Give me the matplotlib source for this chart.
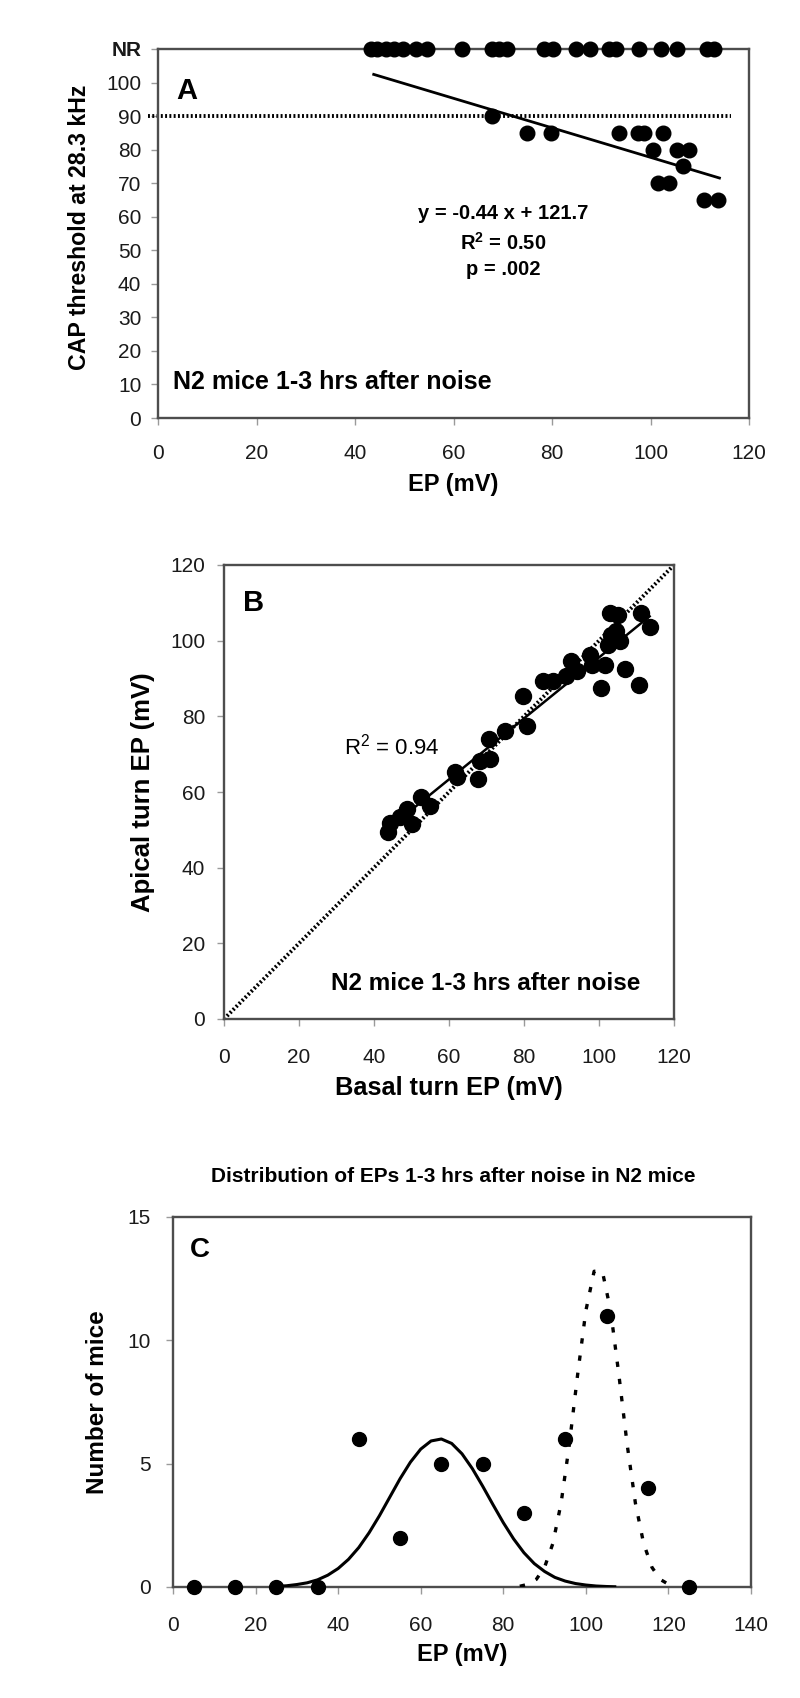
import numpy as np
import matplotlib
matplotlib.use("Agg")
import matplotlib.pyplot as plt

plt.rcParams['font.family'] = ['Liberation Sans', 'DejaVu Sans']
plt.rcParams['mathtext.fontset'] = 'custom'
plt.rcParams['mathtext.rm'] = 'Liberation Sans'
plt.rcParams['mathtext.bf'] = 'Liberation Sans:bold'

# ---------------- Panel A data ----------------
a_thresh_ep = [67.8, 74.9, 79.7, 93.6, 97.4, 98.6, 102.6, 100.6, 105.3, 107.9,
               106.6, 101.5, 103.8, 110.8, 113.7]
a_thresh_db = [90, 85, 85, 85, 85, 85, 85, 80, 80, 80, 75, 70, 70, 65, 65]
a_nr_ep = [43.2, 44.5, 46.3, 48.0, 49.8, 52.4, 54.6, 61.7, 67.8, 69.2, 70.9,
           78.4, 80.2, 84.8, 87.7, 91.6, 93.0, 97.6, 102.2, 105.3, 111.5, 112.8]
a_nr_level = 110
a_fit_coef = [-0.44, 121.7]
a_fit_range = [43.8, 114]
a_criterion = 90
a_yticks = [0, 10, 20, 30, 40, 50, 60, 70, 80, 90, 100, 110]
a_yticklabels = ['0', '10', '20', '30', '40', '50', '60', '70', '80', '90', '100', 'NR']
a_xticks = [0, 20, 40, 60, 80, 100, 120]

# ---------------- Panel B data ----------------
b_basal = [43.6, 44.2, 46.8, 48.9, 50.0, 52.6, 54.8, 61.7, 62.0, 67.7, 68.2, 70.8,
           70.6, 74.8, 79.7, 80.9, 85.1, 87.7, 91.3, 92.4, 94.0, 97.5, 98.0, 100.6,
           101.5, 102.4, 103.3, 102.8, 105.1, 105.5, 106.8, 110.6, 111.3, 113.5, 104.6]
b_apical = [49.4, 51.8, 53.3, 55.5, 51.6, 58.6, 56.4, 65.2, 63.9, 63.4, 68.2, 68.7,
            73.9, 76.1, 85.4, 77.5, 89.3, 89.3, 90.6, 94.6, 91.9, 96.3, 93.7, 87.5,
            93.7, 98.9, 101.6, 107.3, 106.8, 99.8, 92.4, 88.4, 107.3, 103.5, 102.5]
b_ticks = [0, 20, 40, 60, 80, 100, 120]

# ---------------- Panel C data ----------------
c_bin_ep = [5, 15, 25, 35, 45, 55, 65, 75, 85, 95, 105, 115, 125]
c_count = [0, 0, 0, 0, 6, 2, 5, 5, 3, 6, 11, 4, 0]
c_low_x = [25, 27.5, 30, 32.5, 35, 37.5, 40, 42.5, 45, 47.5, 50, 52.5, 55, 57.5, 60,
           62.5, 65, 67.5, 70, 72.5, 75, 77.5, 80, 82.5, 85, 87.5, 90, 92.5, 95,
           97.5, 100, 102.5, 105, 107]
c_low_y = [0.03, 0.05, 0.10, 0.17, 0.29, 0.48, 0.75, 1.12, 1.60, 2.20, 2.89, 3.64,
           4.39, 5.06, 5.59, 5.92, 6.0, 5.82, 5.40, 4.80, 4.09, 3.34, 2.61, 1.95,
           1.39, 0.95, 0.63, 0.39, 0.24, 0.14, 0.08, 0.04, 0.02, 0.01]
c_high_x = [84, 86, 88, 90, 92, 94, 96, 98, 100, 102, 104, 106, 108, 110, 112, 114,
            116, 118, 120]
c_high_y = [0.03, 0.11, 0.31, 0.80, 1.76, 3.40, 5.78, 8.60, 11.2, 12.8, 12.8, 11.2,
            8.60, 5.78, 3.40, 1.76, 0.80, 0.31, 0.11]
c_xticks = [0, 20, 40, 60, 80, 100, 120, 140]
c_yticks = [0, 5, 10, 15]

W, H = 800, 1698
fig = plt.figure(figsize=(W / 100, H / 100), dpi=100)
spine_col = '#4d4d4d'
txt_col = '#1a1a1a'
DOT = (0, (0.5, 0.6))


def px_axes(l, r, t, b):
    return fig.add_axes([l / W, 1 - b / H, (r - l) / W, (b - t) / H])


def ftext(x, y, s, **kw):
    fig.text(x / W, 1 - y / H, s, ha='center', va='center', **kw)


def style(ax, fs, xpad, ypad):
    for s in ax.spines.values():
        s.set_color(spine_col)
        s.set_linewidth(1.7)
    ax.tick_params(direction='out', length=5, width=1, color='#9a9a9a',
                   labelsize=fs, labelcolor=txt_col)
    ax.tick_params(axis='x', pad=xpad)
    ax.tick_params(axis='y', pad=ypad)


# ---------------- Panel A ----------------
axA = px_axes(158, 749, 49, 418)
style(axA, 15, 14, 7)
axA.set_xlim(0, 120)
axA.set_ylim(0, 110)
axA.set_xticks(a_xticks)
axA.set_yticks(a_yticks)
axA.set_yticklabels(a_yticklabels)
axA.get_yticklabels()[-1].set_fontweight('bold')
axA.plot([-2, 116.3], [a_criterion, a_criterion], color='black', lw=2.8,
         linestyle=DOT, clip_on=False, zorder=2)
fx = np.array(a_fit_range)
axA.plot(fx, np.polyval(a_fit_coef, fx), color='black', lw=2, zorder=3)
axA.plot(a_thresh_ep, a_thresh_db, 'o', color='black', ms=10.5, zorder=4)
axA.plot(a_nr_ep, [a_nr_level] * len(a_nr_ep), 'o', color='black', ms=10.5,
         clip_on=False, zorder=5)
axA.text(3.8, 97.5, 'A', fontsize=21, fontweight='bold', va='center', ha='left')
axA.text(70, 61.0, 'y = -0.44 x + 121.7', fontsize=14.5, fontweight='bold',
         ha='center', va='center')
axA.text(70, 52.3, r'R$^{\mathbf{2}}$ = 0.50', fontsize=14.5, fontweight='bold',
         ha='center', va='center')
axA.text(70, 44.3, 'p = .002', fontsize=14.5, fontweight='bold',
         ha='center', va='center')
axA.text(3.1, 10.6, 'N2 mice 1-3 hrs after noise', fontsize=18,
         fontweight='bold', ha='left', va='center')
ftext(453, 485, 'EP (mV)', fontsize=17, fontweight='bold')
ftext(80, 227, 'CAP threshold at 28.3 kHz', fontsize=16.7, fontweight='bold',
      rotation=90)

# ---------------- Panel B ----------------
axB = px_axes(224, 674, 565, 1019)
style(axB, 15, 16, 8.5)
axB.set_xlim(0, 120)
axB.set_ylim(0, 120)
axB.set_xticks(b_ticks)
axB.set_yticks(b_ticks)
axB.plot([0, 120], [0, 120], color='black', lw=2.8, linestyle=DOT, zorder=2)
bc = np.polyfit(b_basal, b_apical, 1)
bx = np.array([min(b_basal), max(b_basal)])
axB.plot(bx, np.polyval(bc, bx), color='black', lw=1.8, zorder=3)
axB.plot(b_basal, b_apical, 'o', color='black', ms=11.5, zorder=4)
axB.text(5.0, 110, 'B', fontsize=21, fontweight='bold', va='center', ha='left')
axB.text(32, 72.0, r'R$^2$ = 0.94', fontsize=16, ha='left', va='center')
axB.text(28.5, 9.4, 'N2 mice 1-3 hrs after noise', fontsize=17.5,
         fontweight='bold', ha='left', va='center')
ftext(449, 1088, 'Basal turn EP (mV)', fontsize=18.3, fontweight='bold')
ftext(143, 792, 'Apical turn EP (mV)', fontsize=18.5, fontweight='bold',
      rotation=90)

# ---------------- Panel C ----------------
axC = px_axes(173, 751, 1217, 1587)
style(axC, 15, 16, 11)
axC.set_xlim(0, 140)
axC.set_ylim(0, 15)
axC.set_xticks(c_xticks)
axC.set_yticks(c_yticks)
axC.plot(c_low_x, c_low_y, color='black', lw=2.2, zorder=3)
axC.plot(c_high_x, c_high_y, color='black', lw=2.4, linestyle=(0, (1.6, 3.6)),
         zorder=3)
axC.plot(c_bin_ep, c_count, 'o', color='black', ms=10, linestyle='none',
         clip_on=False, zorder=4)
axC.text(4.0, 13.66, 'C', fontsize=20, fontweight='bold', va='center', ha='left')
ftext(462, 1655, 'EP (mV)', fontsize=17, fontweight='bold')
ftext(97, 1402, 'Number of mice', fontsize=17.5, fontweight='bold', rotation=90)
ftext(453, 1177, 'Distribution of EPs 1-3 hrs after noise in N2 mice',
      fontsize=15, fontweight='bold')

fig.savefig('out.png', dpi=100, facecolor='white')
